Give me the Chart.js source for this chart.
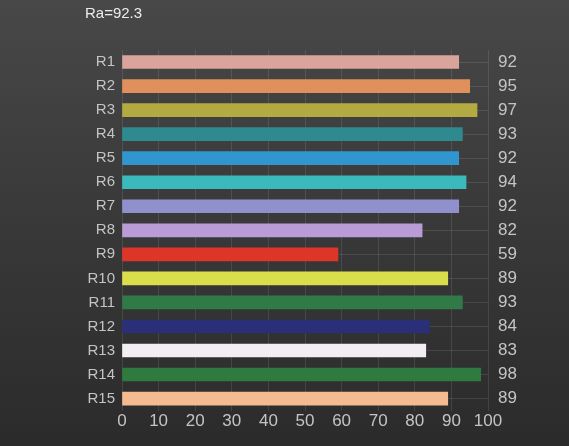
<!DOCTYPE html>
<html>
<head>
<meta charset="utf-8">
<script src="https://cdn.jsdelivr.net/npm/chart.js@4"></script>
<style>
  html, body { margin: 0; padding: 0; }
  body {
    width: 569px; height: 446px; overflow: hidden;
    background: linear-gradient(#484848, #3a3a3a 45%, #2b2b2b);
  }
  #wrap { position: relative; width: 569px; height: 446px; }
</style>
</head>
<body>
<div id="wrap"><canvas id="chartRa"></canvas></div>
<script>
// datos
const titleText = 'Ra=92.3';
const categories = ['R1','R2','R3','R4','R5','R6','R7','R8','R9','R10','R11','R12','R13','R14','R15'];
const values = [92, 95, 97, 93, 92, 94, 92, 82, 59, 89, 93, 84, 83, 98, 89];
const barColors = ['#d8a49c','#df905b','#b3aa42','#2f8a90','#3096cf','#3bbabe','#8f90cc',
                   '#b99bd6','#de3529','#d9de4b','#2f7a46','#2b2f77','#f3eef3','#2f7a3e','#f4ba90'];
const xTicks = [0, 10, 20, 30, 40, 50, 60, 70, 80, 90, 100];

const fontFam = '"Liberation Sans", Arial, sans-serif';
const labelColor = '#c4c4c4';

new Chart(document.getElementById('chartRa'), {
  type: 'bar',
  data: {
    labels: categories,
    datasets: [{
      data: values,
      backgroundColor: barColors,
      barThickness: 13,
      yAxisID: 'y'
    }]
  },
  options: {
    indexAxis: 'y',
    responsive: true,
    maintainAspectRatio: false,
    animation: false,
    layout: { padding: { left: 85, right: 0, top: 0, bottom: 13 } },
    plugins: {
      legend: { display: false },
      tooltip: { enabled: false },
      title: {
        display: true,
        text: titleText,
        align: 'start',
        color: '#ececec',
        font: { family: fontFam, size: 15, weight: 'normal' },
        padding: { top: 5, bottom: 27 }
      }
    },
    scales: {
      x: {
        type: 'linear',
        min: xTicks[0],
        max: xTicks[xTicks.length - 1],
        z: 1,
        afterBuildTicks: axis => { axis.ticks = xTicks.map(v => ({ value: v })); },
        ticks: { color: labelColor, font: { family: fontFam, size: 17 }, padding: 1 },
        grid: { color: 'rgba(255,255,255,0.10)', drawTicks: false },
        border: { display: false }
      },
      y: {
        type: 'category',
        position: 'left',
        afterFit: axis => { axis.width = 37; },
        ticks: { color: labelColor, font: { family: fontFam, size: 15 }, padding: 7 },
        grid: { offset: false, color: 'rgba(255,255,255,0.10)', drawTicks: false },
        border: { display: false }
      },
      yRight: {
        type: 'category',
        position: 'right',
        labels: values.map(String),
        afterFit: axis => { axis.width = 81; },
        ticks: { color: labelColor, font: { family: fontFam, size: 17 }, padding: 2 },
        grid: { display: false },
        border: { display: false }
      }
    }
  }
});
</script>
</body>
</html>
